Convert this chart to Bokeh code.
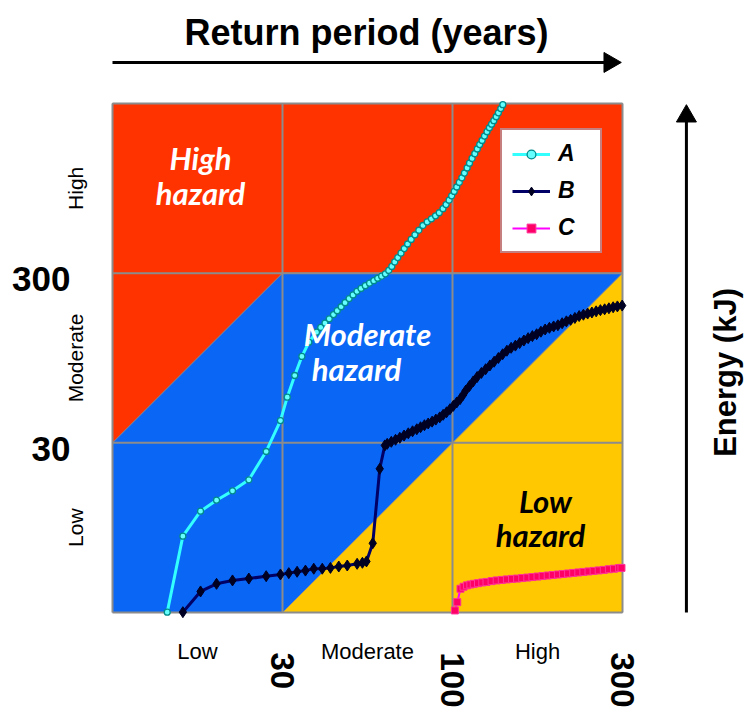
import math
from bokeh.plotting import figure
from bokeh.models import Range1d, Legend, LegendItem
from bokeh.core.properties import value
from bokeh.embed import file_html
from bokeh.resources import INLINE

# ---------------- data ----------------
# class scale: 0..3 on both axes (one unit per hazard class)
class_edges = [0, 1, 2, 3]
x_tick_pos = [1, 2, 3]
x_tick_labels = ["30", "100", "300"]          # return period (years)
y_tick_pos = [1, 2]
y_tick_labels = ["30", "300"]                 # energy (kJ)
class_centers = [0.5, 1.5, 2.5]
class_names = ["Low", "Moderate", "High"]

# hazard zones
red_x = [0, 1, 3, 3, 0]
red_y = [1, 2, 2, 3, 3]
yellow_x = [1, 3, 3]
yellow_y = [0, 0, 2]

# series A
A_x = [0.322, 0.414, 0.518, 0.612, 0.706, 0.802, 0.904, 0.988, 1.028, 1.072,
       1.114, 1.155, 1.200, 1.225, 1.250, 1.275, 1.300, 1.322, 1.345, 1.368,
       1.392, 1.415, 1.438, 1.462, 1.487, 1.512, 1.537, 1.560, 1.583, 1.605,
       1.625, 1.643, 1.660, 1.678, 1.697, 1.716, 1.736, 1.757, 1.779, 1.802,
       1.826, 1.851, 1.876, 1.900, 1.922, 1.944, 1.962, 1.980, 1.995, 2.010,
       2.025, 2.040, 2.055, 2.070, 2.086, 2.100, 2.115, 2.131, 2.146, 2.160,
       2.174, 2.188, 2.203, 2.217, 2.230, 2.243, 2.257, 2.270, 2.284, 2.296]
A_y = [0.002, 0.450, 0.597, 0.662, 0.717, 0.782, 0.949, 1.131, 1.269, 1.397,
       1.509, 1.593, 1.652, 1.680, 1.706, 1.731, 1.756, 1.779, 1.802, 1.826,
       1.850, 1.872, 1.893, 1.910, 1.926, 1.941, 1.956, 1.970, 1.982, 1.996,
       2.016, 2.040, 2.066, 2.092, 2.118, 2.145, 2.172, 2.199, 2.226, 2.253,
       2.281, 2.302, 2.320, 2.338, 2.356, 2.380, 2.404, 2.430, 2.456, 2.482,
       2.508, 2.535, 2.562, 2.590, 2.620, 2.648, 2.676, 2.704, 2.732, 2.758,
       2.782, 2.808, 2.834, 2.857, 2.878, 2.899, 2.922, 2.945, 2.970, 2.993]

# series B
B_x = [0.414, 0.518, 0.612, 0.706, 0.802, 0.904, 0.988, 1.037, 1.086, 1.135,
       1.184, 1.234, 1.282, 1.331, 1.381, 1.439, 1.470, 1.494, 1.531, 1.572,
       1.602, 1.616, 1.640, 1.665, 1.690, 1.715, 1.740, 1.765, 1.790, 1.812,
       1.835, 1.857, 1.880, 1.902, 1.925, 1.945, 1.965, 1.985, 2.005, 2.025,
       2.045, 2.062, 2.078, 2.100, 2.122, 2.145, 2.170, 2.195, 2.220, 2.245,
       2.270, 2.295, 2.320, 2.345, 2.370, 2.395, 2.420, 2.445, 2.470, 2.495,
       2.520, 2.545, 2.570, 2.595, 2.620, 2.645, 2.670, 2.695, 2.720, 2.745,
       2.770, 2.795, 2.820, 2.845, 2.870, 2.895, 2.920, 2.945, 2.970, 2.998]
B_y = [0.002, 0.124, 0.169, 0.189, 0.200, 0.214, 0.224, 0.232, 0.240, 0.247,
       0.258, 0.258, 0.263, 0.271, 0.277, 0.287, 0.293, 0.301, 0.408, 0.847,
       0.985, 0.994, 1.006, 1.018, 1.030, 1.043, 1.056, 1.068, 1.080, 1.092,
       1.104, 1.114, 1.125, 1.137, 1.150, 1.165, 1.180, 1.198, 1.218, 1.238,
       1.258, 1.282, 1.308, 1.335, 1.362, 1.388, 1.412, 1.434, 1.456, 1.478,
       1.500, 1.522, 1.543, 1.560, 1.573, 1.588, 1.603, 1.617, 1.629, 1.640,
       1.655, 1.668, 1.678, 1.686, 1.693, 1.705, 1.716, 1.725, 1.736, 1.747,
       1.755, 1.762, 1.768, 1.775, 1.782, 1.787, 1.793, 1.799, 1.804, 1.809]

# series C
C_x = [2.014, 2.028, 2.047, 2.065, 2.085, 2.105, 2.125, 2.150, 2.175, 2.200,
       2.230, 2.260, 2.290, 2.320, 2.350, 2.380, 2.410, 2.440, 2.470, 2.500,
       2.530, 2.560, 2.590, 2.620, 2.650, 2.680, 2.710, 2.740, 2.770, 2.800,
       2.830, 2.860, 2.890, 2.920, 2.950, 2.980, 2.994]
C_y = [0.012, 0.061, 0.140, 0.152, 0.160, 0.165, 0.169, 0.173, 0.177, 0.180,
       0.185, 0.189, 0.192, 0.195, 0.198, 0.200, 0.203, 0.206, 0.209, 0.212,
       0.215, 0.218, 0.221, 0.224, 0.227, 0.230, 0.233, 0.236, 0.239, 0.242,
       0.245, 0.248, 0.251, 0.255, 0.258, 0.262, 0.263]

# ---------------- styles ----------------
RED = "#FF3300"
BLUE = "#0A66F5"
YELLOW = "#FFC800"
GRID = "#8C8C8C"
AX_FONT = value("Liberation Sans")
HZ_FONT = value("Lato")

W, H = 745, 711
# the class square occupies 510 x 509 px, 112 px from the left, 103 px from the top
PX_X = 170.0
PX_Y = 169.67
x_range = Range1d(-112 / PX_X, 3 + (W - 622) / PX_X)
y_range = Range1d(-(H - 612) / PX_Y, 3 + 103 / PX_Y)

p = figure(width=W, height=H, x_range=x_range, y_range=y_range,
           output_backend="svg", toolbar_location=None,
           x_axis_location=None, y_axis_location=None, min_border=0)
p.grid.visible = False
p.outline_line_color = None
p.background_fill_color = "white"
p.border_fill_color = "white"

# zones
p.patch([0, 3, 3, 0], [0, 0, 3, 3], fill_color=BLUE, line_color=None)
p.patch(red_x, red_y, fill_color=RED, line_color=GRID, line_width=1)
p.patch(yellow_x, yellow_y, fill_color=YELLOW, line_color=GRID, line_width=1)

# class grid (incl. frame)
lo, hi = class_edges[0], class_edges[-1]
p.segment(x0=class_edges, y0=[lo] * 4, x1=class_edges, y1=[hi] * 4,
          line_color=GRID, line_width=2)
p.segment(x0=[lo] * 4, y0=class_edges, x1=[hi] * 4, y1=class_edges,
          line_color=GRID, line_width=2)

# curves
la = p.line(A_x, A_y, line_color="#33FFFF", line_width=3)
sa = p.scatter(A_x, A_y, marker="circle", size=6, fill_color="#66FFFF",
               line_color="#008B8B", line_width=1.3)
lb = p.line(B_x, B_y, line_color="#000066", line_width=3)
sb = p.scatter(B_x, B_y, marker="diamond", size=11, fill_color="#000022",
               line_color="#000022")
lc = p.line(C_x, C_y, line_color="#FF00FF", line_width=2)
sc = p.scatter(C_x, C_y, marker="square", size=7, fill_color="#FF0066",
               line_color="#FF3399")

legend = Legend(items=[LegendItem(label="A", renderers=[la, sa]),
                       LegendItem(label="B", renderers=[lb, sb]),
                       LegendItem(label="C", renderers=[lc, sc])],
                location=(500, H - 253), padding=10, margin=0, spacing=10,
                glyph_width=38, glyph_height=22, label_height=22,
                label_width=32, label_standoff=8,
                label_text_font="Liberation Sans", label_text_font_size="23px",
                label_text_font_style="bold italic", label_text_color="black",
                border_line_color="#8B0000", border_line_width=2,
                background_fill_color="white", background_fill_alpha=1)
p.add_layout(legend)

# hazard labels
p.text(x=[0.518, 0.518], y=[2.681, 2.475], text=["High", "hazard"],
       text_align="center", text_baseline="middle", text_font=HZ_FONT,
       text_font_size="31px", text_font_style="bold italic", text_color="white")
p.text(x=[1.500, 1.435], y=[1.644, 1.438], text=["Moderate", "hazard"],
       text_align="center", text_baseline="middle", text_font=HZ_FONT,
       text_font_size="31px", text_font_style="bold italic", text_color="white")
p.text(x=[2.547, 2.518], y=[0.660, 0.454], text=["Low", "hazard"],
       text_align="center", text_baseline="middle", text_font=HZ_FONT,
       text_font_size="31px", text_font_style="bold italic", text_color="black")

# y-axis: thresholds (horizontal, bold) and class names (vertical)
p.text(x=[-42 / PX_X] * len(y_tick_pos), y=y_tick_pos, text=y_tick_labels,
       y_offset=6, text_align="right", text_baseline="middle", text_font=AX_FONT,
       text_font_size="35px", text_font_style="bold", text_color="black")
p.text(x=[-37 / PX_X] * 3, y=class_centers, text=class_names, angle=math.pi / 2,
       text_align="center", text_baseline="middle", text_font=AX_FONT,
       text_font_size="21px", text_color="black")

# x-axis: class names and thresholds (rotated, bold)
p.text(x=class_centers, y=[-39 / PX_Y] * 3, text=class_names,
       text_align="center", text_baseline="middle", text_font=AX_FONT,
       text_font_size="22px", text_color="black")
p.text(x=x_tick_pos, y=[-40 / PX_Y] * len(x_tick_pos), text=x_tick_labels,
       angle=-math.pi / 2, text_align="left", text_baseline="middle",
       text_font=AX_FONT, text_font_size="33px", text_font_style="bold",
       text_color="black")

# axis titles with arrows
p.text(x=[1.494], y=[3.418], text=["Return period (years)"], text_align="center",
       text_baseline="middle", text_font=AX_FONT, text_font_size="36px",
       text_font_style="bold", text_color="black")
p.segment(x0=[0], y0=[3.242], x1=[2.9], y1=[3.242], line_color="black", line_width=3)
p.scatter(x=[2.925], y=[3.242], marker="triangle", size=20, angle=-math.pi / 2,
          fill_color="black", line_color="black")

p.text(x=[3.606], y=[1.415], text=["Energy (kJ)"], angle=math.pi / 2,
       text_align="center", text_baseline="middle", text_font=AX_FONT,
       text_font_size="31px", text_font_style="bold", text_color="black")
p.segment(x0=[3.376], y0=[0], x1=[3.376], y1=[2.9], line_color="black", line_width=3)
p.scatter(x=[3.376], y=[2.925], marker="triangle", size=20,
          fill_color="black", line_color="black")

open("out.html", "w").write(file_html(p, INLINE))
